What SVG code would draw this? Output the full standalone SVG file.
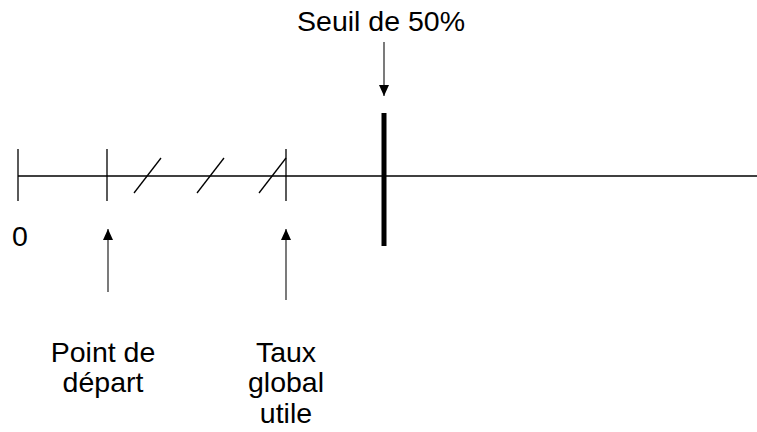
<svg xmlns="http://www.w3.org/2000/svg" width="757" height="432" viewBox="0 0 757 432">
<style>
.l{stroke:#000;stroke-width:1.3;fill:none}
.a{stroke:#333;stroke-width:1.3;fill:none}
text{font-family:"Liberation Sans",Arial,sans-serif;font-size:28.5px;fill:#000;text-anchor:middle}
</style>
<defs>
<marker id="ah" viewBox="0 0 10 10" refX="10" refY="5" markerWidth="11" markerHeight="10" markerUnits="userSpaceOnUse" orient="auto" preserveAspectRatio="none">
<path d="M0,0L10,5L0,10z" fill="#000"/>
</marker>
</defs>
<rect width="757" height="432" fill="#fff"/>
<g id="axis">
<line class="l" x1="18" y1="176" x2="757" y2="176"/>
<line class="l" x1="18" y1="149" x2="18" y2="201"/>
<line class="l" x1="107" y1="149" x2="107" y2="201"/>
<line class="l" x1="286" y1="149" x2="286" y2="201"/>
<line class="l" x1="134" y1="193" x2="161" y2="158"/>
<line class="l" x1="197" y1="193" x2="224" y2="158"/>
<line class="l" x1="259" y1="193" x2="286" y2="158"/>
<line stroke="#000" stroke-width="5" x1="384" y1="113" x2="384" y2="246"/>
<text x="20" y="246">0</text>
</g>
<g id="seuil">
<text x="381" y="31">Seuil de 50%</text>
</g>
<g id="depart">
<text x="103" y="362">Point de</text>
<text x="103" y="392">départ</text>
</g>
<g id="taux">
<text x="286" y="362">Taux</text>
<text x="286" y="392">global</text>
<text x="286" y="423">utile</text>
</g>
<g id="connectors">
<line class="a" x1="384" y1="42" x2="384" y2="96" marker-end="url(#ah)"/>
<line class="a" x1="108" y1="292" x2="108" y2="229" marker-end="url(#ah)"/>
<line class="a" x1="286" y1="300" x2="286" y2="229" marker-end="url(#ah)"/>
</g>
</svg>
